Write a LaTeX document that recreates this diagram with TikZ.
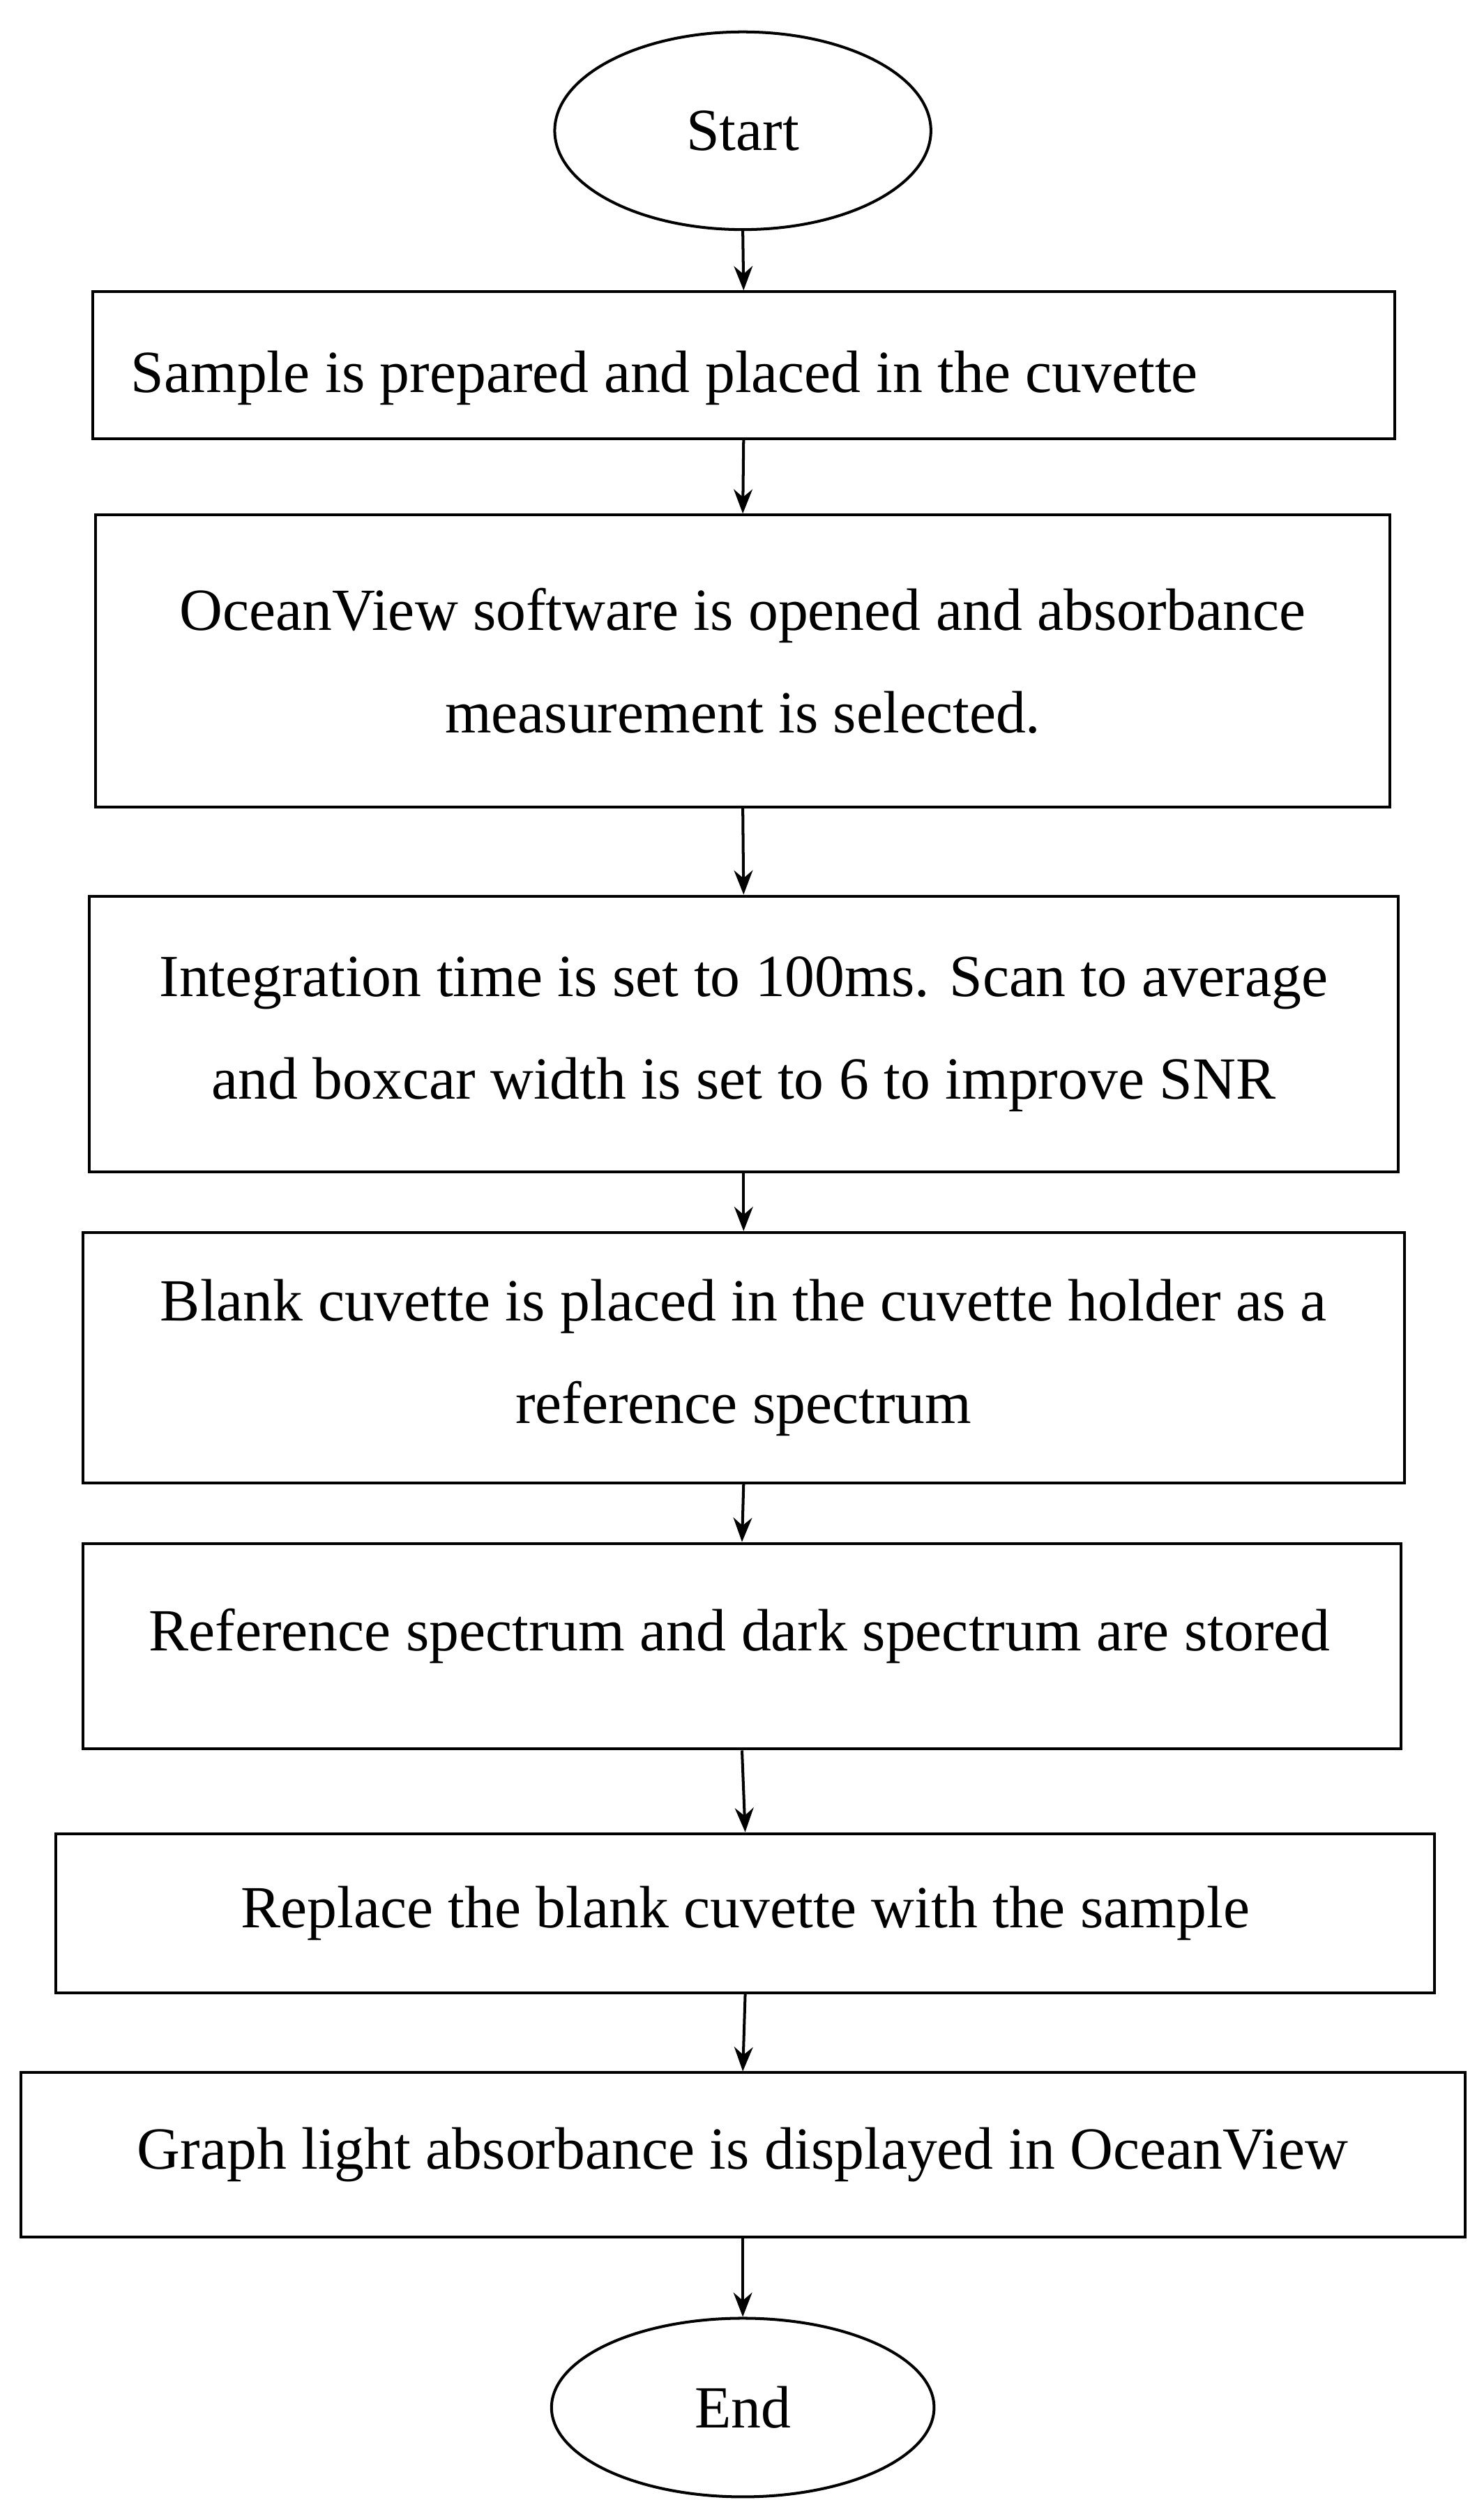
\documentclass[tikz,border=0pt]{standalone}
\usepackage{fontspec}
\setmainfont{Liberation Serif}
\usetikzlibrary{shapes.geometric,arrows.meta}
\begin{document}
\begin{tikzpicture}[x=0.03cm,y=-0.03cm,
  every node/.style={font=\fontsize{32}{55}\selectfont},
  box/.style={draw,line width=1.5pt,rectangle,minimum width=#1*0.03cm,align=center,inner sep=0pt},
  term/.style={draw,line width=1.5pt,ellipse,inner sep=0pt},
  arr/.style={-{Stealth[length=13pt,width=10pt]},line width=1.5pt}]
\useasboundingbox (0,0) rectangle (931,1568);
\node[term,minimum width=236*0.03cm,minimum height=124*0.03cm] (s) at (466,82) {Start};
\node[box=817,minimum height=92*0.03cm] (b1) at (466.5,229) {};
\node[anchor=west] (t1) at (78,237) {Sample is prepared and placed in the cuvette};
\node[box=812,minimum height=183*0.03cm] (b2) at (466,414.5) {OceanView software is opened and absorbance\\measurement is selected.};
\node[box=821,minimum height=173*0.03cm] (b3) at (466.5,648.5) {Integration time is set to 100ms. Scan to average\\and boxcar width is set to 6 to improve SNR};
\node[box=829,minimum height=157*0.03cm] (b4) at (466.5,851.5) {Blank cuvette is placed in the cuvette holder as a\\reference spectrum};
\node[box=827,minimum height=129*0.03cm] (b5) at (465.5,1032.5) {};
\node (t5) at (464,1026) {Reference spectrum and dark spectrum are stored};
\node[box=865,minimum height=100*0.03cm] (b6) at (467.5,1200) {Replace the blank cuvette with the sample};
\node[box=906,minimum height=103*0.03cm] (b7) at (466,1351.5) {Graph light absorbance is displayed in OceanView};
\node[term,minimum width=240*0.03cm,minimum height=112*0.03cm] (e) at (466,1510) {End};
\draw[arr] (s.south) -- (b1.north);
\draw[arr] (b1.south) -- (b2.north);
\draw[arr] (b2.south) -- (b3.north);
\draw[arr] (b3.south) -- (b4.north);
\draw[arr] (b4.south) -- (b5.north);
\draw[arr] (b5.south) -- (b6.north);
\draw[arr] (b6.south) -- (b7.north);
\draw[arr] (b7.south) -- (e.north);
\end{tikzpicture}
\end{document}
